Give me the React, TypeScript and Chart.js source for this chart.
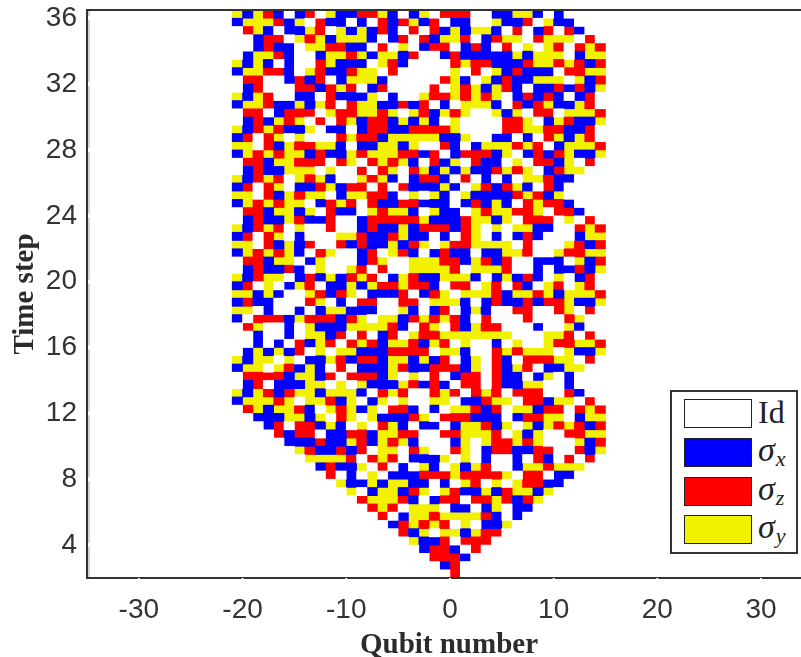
import React, { useEffect, useRef } from "react";
import { Chart, registerables } from "chart.js";

Chart.register(...registerables);

// One row per half time step, top (t = 36) to bottom (t = 2); one letter per qubit from -21 to 14.
const operatorRows = [
  "Y B Y R B W B R W Y B B R R Y B W B Y W R R R W W B B Y Y B W B W W W W",
  "B Y Y Y R B Y W R B B W B W R B R Y B R W B B W W Y B B R W Y B B W W W",
  "W R Y B W B B Y R W Y B Y B R B W R W R B Y B Y Y B W R W B R W R B W W",
  "W W B R R W Y R Y B Y Y Y B W B R W R B Y Y R W B R Y Y W R Y Y Y W R W",
  "W W B R B B W Y Y R R B B W R W Y W B R R W B R B W R W Y W Y R W R Y R",
  "W B Y Y R B W W B Y Y R Y B Y Y B R W W B R B B B B B Y B Y Y Y W B Y Y",
  "Y B Y B W B W W R Y B B B W Y R B W W W W R Y R R B B B R Y Y R Y R B R",
  "B Y Y R R B W Y R B B R Y Y W R W W W W W Y W R W Y B R B B B W R R Y Y",
  "W R R W W B R B R W B Y Y Y B W W W W W R Y B W Y B R B B Y Y Y W Y B R",
  "W B R W W W R R B R Y R W B R W W W W R W Y R Y B Y R B W B B R B R B Y",
  "Y B Y R W W B B W R B B B Y W B W W Y R R Y R Y R Y W B R B R B W B R W",
  "B Y Y R B B Y B Y R W R Y Y B B R B R W B W Y Y Y B W R B R Y B B Y R W",
  "W R R W B R R R W Y R R Y Y R Y W Y R B Y R Y W W Y B Y W R R W Y Y Y R",
  "W B R B Y R Y W R W R Y B R R B Y B Y B W Y W W W W R R Y W B Y R B B Y",
  "Y B R Y R B B Y W B B W B R R B B R R R R Y W W W W R R Y Y R R B B R W",
  "B R W R Y W Y W W W R Y R R B Y Y Y Y Y B B Y W W B B W B W R Y B Y R W",
  "Y Y W R B Y R R Y Y B W B B Y Y B Y W W R B W B Y Y Y R Y R W B Y Y Y R",
  "B Y R Y R Y Y B R B B Y R Y Y Y R R B R W B R R R B Y W B R B R Y B B Y",
  "W R R B Y Y R R R W R Y W R Y R Y B W R B Y W R B B W Y W R R B Y W R W",
  "W B R B B Y Y Y W Y W W R W R Y W R Y B Y B Y B B R Y R Y W B R Y Y W W",
  "Y B R Y R W Y R Y B W W Y R Y B W B R R B W R W B W B W Y Y R B B W W W",
  "B R W R Y W B B R Y B R R W R W R B B B Y B W Y R B R Y B W R B W W W W",
  "Y Y W R B Y R Y Y W B Y Y R R B W Y W Y B W Y B B B B R Y R B Y W W W W",
  "B Y R Y R Y Y W B R Y R W R B B R R B B B W B R B Y B W R Y R R B W W W",
  "W R R B Y Y B Y W R B B W Y R Y Y B W Y B B W Y R Y Y R R Y W R R B W W",
  "W B R B B Y R B B R W W B R R R R R Y B B B R Y Y B Y W R R R W Y W R W",
  "Y B R Y R W Y W W R W W B R B B Y B R R R B R Y W Y W Y Y B B W W R Y R",
  "B R W R Y W B W W W Y Y R B B R Y B B W B W R Y W B W B R B W W W B Y Y",
  "Y Y W R B Y B R W W R B R B B Y B R Y W Y R R Y Y Y Y W R W W W Y R B R",
  "B Y R Y R Y B W R Y W W B R W Y R B W B R B B W B B Y Y R W W Y R R Y Y",
  "W R R B Y Y W B Y W W W B R Y W W Y Y Y R R B Y R B R W W B B B W Y B R",
  "W B R B B R B W Y W W Y R W R W W Y Y Y Y R W Y Y Y R W W B W B B R B Y",
  "Y B R Y Y W B R B Y B R Y R W B Y R B B Y Y Y B W B Y B R B W Y W B R W",
  "B R W Y W B Y R W B B Y B Y R R Y R R B W R R W Y R W R B W Y R W Y R W",
  "Y Y B Y B W W Y R B R Y W B B B R W B R Y W Y Y Y R B Y Y R Y B Y Y Y R",
  "B R B B W W W R Y W B W R R W W R R W Y Y Y B W B R B B R B R R Y B B Y",
  "Y Y W B W W B W B Y Y B B B W W Y B W B R W B Y B W W R R W W R Y W R W",
  "B W R R R B Y R R R B R Y W Y Y B R Y R Y R B W R W W W R W W W R Y W W",
  "W R Y W W B W Y B B B Y Y Y Y R B W R Y W R B Y R R W W W B W W Y B W W",
  "W W B W W B W Y Y B R W R W B R W Y R R Y Y Y Y Y Y Y W W W Y Y R W R W",
  "W W B W B W R B Y R W R Y R B Y Y R B Y R W Y W W B W Y W W Y R R Y Y R",
  "W B Y B Y B R W Y W Y Y B B B R R R R W Y Y B W W R Y R Y Y Y W Y B B Y",
  "Y B Y Y W Y W B B Y R B R R B Y Y B Y B R W B Y W R B W R R R Y Y W R W",
  "B Y Y W Y R B Y B W R W B B B Y R B B R R R B Y W R B Y R W B B Y Y W W",
  "W R R R R B Y Y B R W R R R B Y W Y W R W B R R W R B B W B Y W B W W W",
  "W B R W B B B Y Y W Y W Y B B B Y R B R B W R R W R B B Y Y W W B W W W",
  "Y B Y R B R Y Y B Y Y Y B W R Y R W W R Y R W R Y R W R R R W W R B W W",
  "B Y Y Y R Y W Y Y R B Y W B Y W Y W W Y Y W B B R Y Y W R R B Y Y W R W",
  "W R Y B Y Y R B W Y R Y B Y W R R B W B W Y Y R B R W Y Y B R R W R Y R",
  "W W B B B Y Y B Y W R Y W Y B B B R Y W R R R B B B W B R R Y Y W B Y Y",
  "W W W B R W R R B Y B W Y W R Y B W B B W B Y Y R B Y W Y B Y R Y R B R",
  "W W W W R B R R W B B R R B Y Y R R W W R R Y Y Y R W Y B Y W W R R Y Y",
  "W W W W W B B B R B B Y R B Y R Y B W W W B Y W Y R R Y R Y W W W Y B R",
  "W W W W W W Y R B B R B R W Y Y W R Y W W R Y W B R R B B R R W W R B Y",
  "W W W W W W W Y Y Y Y R W R Y R W B B B Y W Y W B W W B W R B W R W R W",
  "W W W W W W W W B R B B Y W R W B W Y B W Y B Y R W W B Y Y R Y Y Y W W",
  "W W W W W W W W W R W B W Y W B B B R R R Y R R R R Y W R R W B B W W W",
  "W W W W W W W W W W Y B B Y B Y Y B B W B W Y R W Y W Y R R B B W W W W",
  "W W W W W W W W W W W Y W B Y Y B R Y W Y R B B Y B R Y Y B Y W W W W W",
  "W W W W W W W W W W W W R Y Y Y R B W B R R W R R Y R B R Y W W W W W W",
  "W W W W W W W W W W W W W R Y R W Y Y Y W B B W B Y W B B W W W W W W W",
  "W W W W W W W W W W W W W W R W B Y Y R Y Y Y Y R B W B W W W W W W W W",
  "W W W W W W W W W W W W W W W B R Y R Y R W Y W B B Y W W W W W W W W W",
  "W W W W W W W W W W W W W W W W R B Y W Y Y B Y R R W W W W W W W W W W",
  "W W W W W W W W W W W W W W W W W Y B B R W R R R W W W W W W W W W W W",
  "W W W W W W W W W W W W W W W W W W B R R B W R W W W W W W W W W W W W",
  "W W W W W W W W W W W W W W W W W W W R R R B W W W W W W W W W W W W W",
  "W W W W W W W W W W W W W W W W W W W W B R W W W W W W W W W W W W W W",
  "W W W W W W W W W W W W W W W W W W W W W R W W W W W W W W W W W W W W",
];
const firstQubit = -21;
const topTime = 36;
const timePerRow = 0.5;

const qubitTicks = [-30, -20, -10, 0, 10, 20, 30];
const timeTicks = [4, 8, 12, 16, 20, 24, 28, 32, 36];
const operatorCodes = ["W", "B", "R", "Y"];
const operatorNames = ["Id", "sigma x", "sigma z", "sigma y"];
const operatorColors = ["#ffffff", "#0000ff", "#ff0000", "#f2f200"];

function cellsFor(code: string) {
  const cells: { x: number; y: [number, number] }[] = [];
  operatorRows.forEach((row, r) => {
    row.split(" ").forEach((c, i) => {
      if (c === code) {
        const top = topTime - r * timePerRow;
        cells.push({ x: firstQubit + i + 0.5, y: [top, top + timePerRow] });
      }
    });
  });
  return cells;
}

const frame = {
  id: "frame",
  afterDraw(chart: any) {
    const { ctx, chartArea: a, scales } = chart;
    ctx.save();
    ctx.fillStyle = "#d4d4d4";
    ctx.fillRect(a.left + 1, a.top + 1, 2, a.bottom - a.top - 2);
    ctx.fillStyle = "#333333";
    ctx.fillRect(a.left - 1, a.top - 1, a.right - a.left + 1, 2);
    ctx.fillStyle = "#ffffff";
    qubitTicks.forEach((v) => {
      ctx.fillRect(scales.x.getPixelForValue(v) - 1, a.bottom, 2, 1);
    });
    timeTicks.forEach((v) => {
      ctx.fillRect(a.left + 1, scales.y.getPixelForValue(v) - 2, 2, 4);
    });
    ctx.restore();
  },
};

const legendRowStyle = (top: number, color: string): React.CSSProperties => ({
  position: "absolute",
  left: 12,
  top,
  width: 66,
  height: 27,
  background: color,
  border: "1px solid #222",
});

const sigmaStyle = (top: number): React.CSSProperties => ({
  position: "absolute",
  left: 86,
  top,
  fontFamily: "'Liberation Serif', serif",
  fontStyle: "italic",
  fontSize: 34,
  lineHeight: "32px",
  color: "#222",
  whiteSpace: "nowrap",
});

const subStyle: React.CSSProperties = { fontSize: 22, position: "relative", top: 5, left: 1 };

export default function App() {
  const ref = useRef<HTMLCanvasElement>(null);
  useEffect(() => {
    document.body.style.margin = "0";
    const chart = new Chart(ref.current!, {
      type: "bar",
      data: {
        datasets: operatorCodes.map((code, i) => ({
          label: operatorNames[i],
          data: cellsFor(code) as any,
          backgroundColor: operatorColors[i],
          borderWidth: 0,
          barThickness: 10.37,
          barPercentage: 1,
          categoryPercentage: 1,
          grouped: false,
        })),
      },
      plugins: [frame],
      options: {
        responsive: false,
        animation: false,
        layout: { padding: { top: 10, right: 0, left: 0, bottom: 0 } },
        plugins: { legend: { display: false }, tooltip: { enabled: false } },
        scales: {
          x: {
            type: "linear",
            offset: false,
            min: -35,
            max: 34.82,
            afterFit: (s: any) => {
              s.height = 79;
              s.paddingLeft = 0;
              s.paddingRight = 0;
            },
            afterBuildTicks: (s: any) => { s.ticks = qubitTicks.map((value) => ({ value })); },
            border: { display: true, color: "#333333", width: 2, z: 1 },
            grid: { offset: false, drawOnChartArea: false, drawTicks: false },
            ticks: {
              padding: 15,
              maxRotation: 0,
              autoSkip: false,
              color: "#333333",
              font: { family: "'Liberation Sans', sans-serif", size: 28 },
            },
            title: {
              display: true,
              text: "Qubit number",
              color: "#2b2b2b",
              padding: { top: 0, bottom: -3 },
              font: { family: "'Liberation Serif', serif", size: 29, weight: "bold", lineHeight: 1 },
            },
          },
          y: {
            type: "linear",
            min: 2,
            max: 36.5,
            afterFit: (s: any) => {
              s.width = 87;
              s.paddingTop = 0;
              s.paddingBottom = 0;
            },
            afterBuildTicks: (s: any) => { s.ticks = timeTicks.map((value) => ({ value })); },
            border: { display: true, color: "#333333", width: 2, z: 1 },
            grid: { drawOnChartArea: false, drawTicks: false },
            ticks: {
              padding: 10,
              autoSkip: false,
              color: "#333333",
              font: { family: "'Liberation Sans', sans-serif", size: 28 },
            },
            title: {
              display: true,
              text: "Time step",
              color: "#2b2b2b",
              padding: { top: 11, bottom: 0 },
              font: { family: "'Liberation Serif', serif", size: 29, weight: "bold", lineHeight: 1 },
            },
          },
        },
      } as any,
    });
    return () => chart.destroy();
  }, []);

  return (
    <div style={{ position: "absolute", left: 0, top: 0, width: 801, height: 657, overflow: "hidden" }}>
      <canvas ref={ref} width={811} height={657} style={{ display: "block" }} />
      <div
        style={{
          position: "absolute",
          left: 670,
          top: 390,
          width: 124,
          height: 160,
          background: "#fff",
          border: "2px solid #333",
        }}
      >
        <div style={legendRowStyle(7, operatorColors[0])} />
        <div style={legendRowStyle(46, operatorColors[1])} />
        <div style={legendRowStyle(85, operatorColors[2])} />
        <div style={legendRowStyle(123, operatorColors[3])} />
        <div style={{ ...sigmaStyle(4), fontStyle: "normal", fontSize: 32 }}>Id</div>
        <div style={sigmaStyle(42)}>σ<span style={subStyle}>x</span></div>
        <div style={sigmaStyle(81)}>σ<span style={subStyle}>z</span></div>
        <div style={sigmaStyle(119)}>σ<span style={subStyle}>y</span></div>
      </div>
    </div>
  );
}
